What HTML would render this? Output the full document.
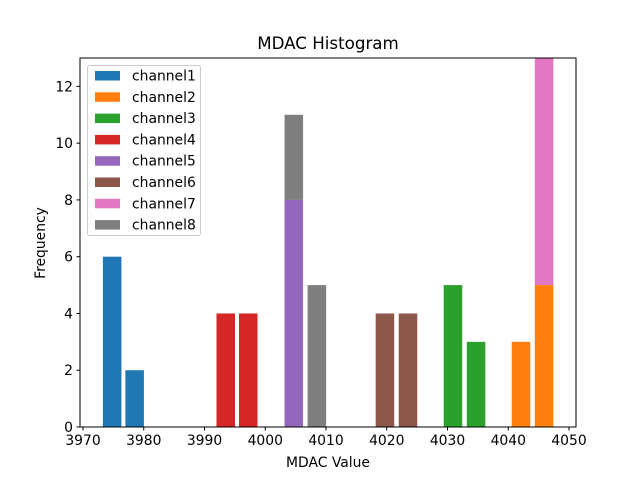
<!DOCTYPE html>
<html><head><meta charset="utf-8"><style>body{margin:0;background:#fff}svg{display:block;font-family:"DejaVu Sans","Liberation Sans",sans-serif}</style></head>
<body>
<svg id="c" width="640" height="480"></svg>
<script>
const channels=["channel1","channel2","channel3","channel4","channel5","channel6","channel7","channel8"];
const colors=["#1f77b4","#ff7f0e","#2ca02c","#d62728","#9467bd","#8c564b","#e377c2","#7f7f7f"];
const barChannel=[0,0,3,3,4,7,7,5,5,2,2,1,1,6];
const barCenter=[3974.8,3978.5,3993.5,3997.2,4004.7,4004.7,4008.5,4019.7,4023.5,4030.9,4034.7,4042.1,4045.9,4045.9];
const barBase=[0,0,0,0,0,8,0,0,0,0,0,0,0,5];
const barCount=[6,2,4,4,8,3,5,4,4,5,3,3,5,8];
const xTicks=[3970,3980,3990,4000,4010,4020,4030,4040,4050];
const yTicks=[0,2,4,6,8,10,12];
const NS="http://www.w3.org/2000/svg";
const svg=document.getElementById('c');
const L=80,R=576,T=58,B=427;
const xs=v=>83+(v-3970)*(569-83)/80;
const ys=v=>427-v*(427-58)/13;
const bw=3.05*(569-83)/80;
function el(t,a,p){const e=document.createElementNS(NS,t);for(const k in a)e.setAttribute(k,a[k]);(p||svg).appendChild(e);return e;}
const clip=el('clipPath',{id:'cp'});el('rect',{x:L,y:T,width:R-L,height:B-T},clip);
const g=el('g',{'clip-path':'url(#cp)'});
barCenter.forEach((c,i)=>{
 const r=el('rect',{x:xs(c)-bw/2,y:ys(barBase[i]+barCount[i]),width:bw,height:ys(barBase[i])-ys(barBase[i]+barCount[i]),fill:colors[barChannel[i]]},g);
 
 
});
const frame=el('rect',{x:L,y:T,width:R-L,height:B-T,fill:'none',stroke:'#000','stroke-width':1});

xTicks.forEach(v=>{
 el('line',{x1:xs(v),x2:xs(v),y1:B,y2:B+3.5,stroke:'#000'});
 const t=el('text',{x:xs(v),y:B+18,'text-anchor':'middle','font-size':13.9});t.textContent=v;
 
});
yTicks.forEach(v=>{
 el('line',{x1:L-3.5,x2:L,y1:ys(v),y2:ys(v),stroke:'#000'});
 const t=el('text',{x:L-7,y:ys(v)+5,'text-anchor':'end','font-size':13.9});t.textContent=v;
 
});
let t=el('text',{x:328,y:49,'text-anchor':'middle','font-size':16.7});t.textContent='MDAC Histogram';

t=el('text',{x:328,y:467,'text-anchor':'middle','font-size':13.9});t.textContent='MDAC Value';

t=el('text',{x:45,y:243,'text-anchor':'middle','font-size':13.9,transform:'rotate(-90 45 243)'});t.textContent='Frequency';

const lg=el('g',{});
el('rect',{x:87.5,y:65.5,width:113,height:170,rx:2,fill:'#fff','fill-opacity':0.8,stroke:'#ccc'},lg);
channels.forEach((n,i)=>{
 const y=75.5+i*21.3;
 const e=el('g',{},lg);
 el('rect',{x:95,y:y-4.5,width:25,height:9.5,fill:colors[i]},e);
 const tx=el('text',{x:132,y:y+5,'font-size':13.9},e);tx.textContent=n;
});
</script>
</body></html>
